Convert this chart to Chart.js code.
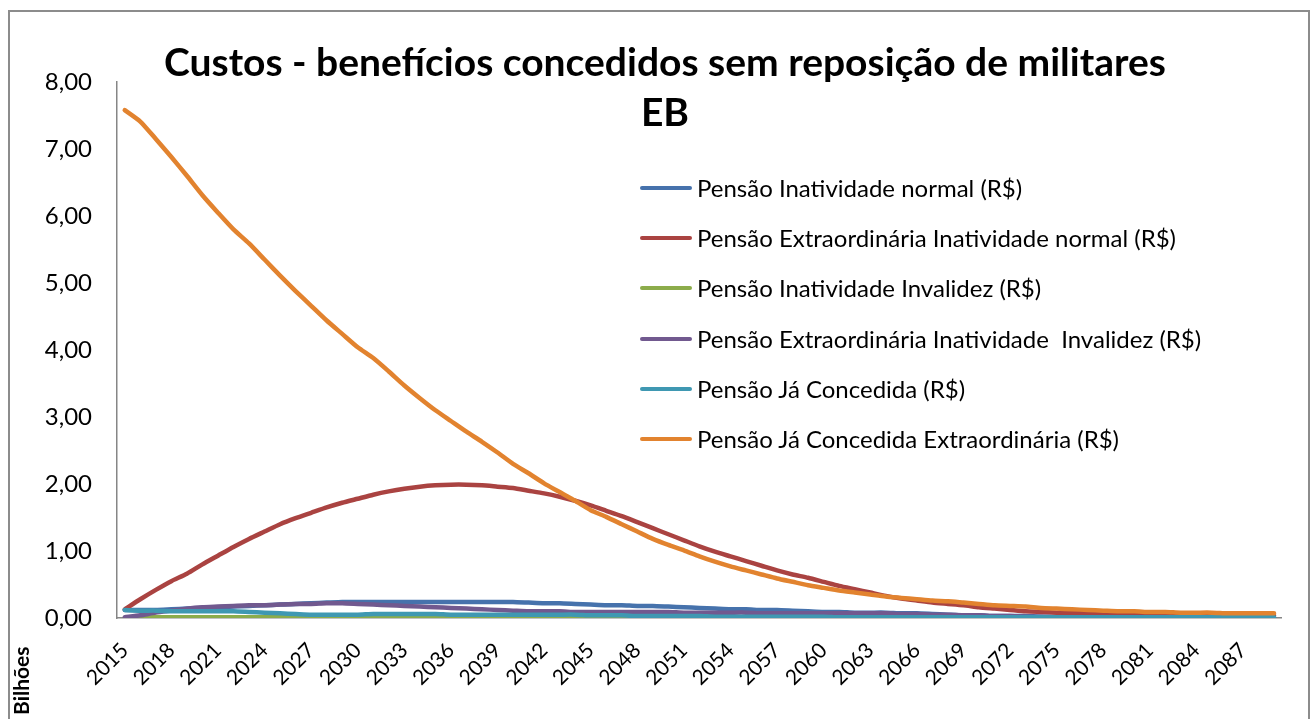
<!DOCTYPE html>
<html>
<head>
<meta charset="utf-8">
<title>Custos - benefícios concedidos sem reposição de militares EB</title>
<script src="https://cdn.jsdelivr.net/npm/chart.js@4.4.1/dist/chart.umd.min.js"></script>
<style>
  html, body { margin: 0; padding: 0; background: #fff; }
  #wrap { position: relative; width: 1312px; height: 719px; overflow: hidden; font-family: Lato, "Open Sans", sans-serif; }
  #frame { position: absolute; left: 8px; top: 10px; width: 1302px; height: 720px; border: 2px solid #8c8c8c; box-sizing: border-box; }
  #chart { position: absolute; left: 0; top: 0; }
  #title { position: absolute; left: 0; width: 1330px; top: 36px; text-align: center; font-weight: bold; font-size: 39px; line-height: 50px; color: #000; }
  #legend { position: absolute; left: 640px; top: 174px; font-size: 24px; line-height: 28px; color: #000; }
  #legend div { height: 50.2px; display: flex; align-items: flex-start; white-space: pre; }
  #legend span.sw { display: inline-block; width: 52px; height: 4px; margin-top: 12px; margin-right: 5px; border-radius: 2px; }
  #units { position: absolute; left: 8px; top: 715px; transform: rotate(-90deg); transform-origin: 0 0; font-weight: bold; font-size: 21px; }
</style>
</head>
<body>
<div id="wrap">
  <canvas id="chart" width="1312" height="719"></canvas>
  <div id="frame"></div>
  <div id="title">Custos - benefícios concedidos sem reposição de militares<br>EB</div>
  <div id="legend"></div>
  <div id="units">Bilhões</div>
</div>
<script>
// anos 2015..2089
const years = [];
for (let y = 2015; y <= 2089; y++) years.push(String(y));

const seriesNames = [
    'Pensão Inatividade normal (R$)',
    'Pensão Extraordinária Inatividade normal (R$)',
    'Pensão Inatividade Invalidez (R$)',
    'Pensão Extraordinária Inatividade  Invalidez (R$)',
    'Pensão Já Concedida (R$)',
    'Pensão Já Concedida Extraordinária (R$)'
];
const seriesColors = ['#4672ac', '#aa4341', '#8cac4b', '#71598f', '#3f98b2', '#e2832f'];

// valores em bilhões de R$
const inatNormal = [
    0.12, 0.12, 0.12, 0.13, 0.14, 0.15, 0.16, 0.17, 0.18, 0.19,
    0.20, 0.21, 0.22, 0.23, 0.24, 0.24, 0.24, 0.24, 0.24, 0.24,
    0.24, 0.24, 0.24, 0.24, 0.24, 0.24, 0.23, 0.22, 0.22, 0.21,
    0.20, 0.19, 0.19, 0.18, 0.18, 0.17, 0.16, 0.15, 0.14, 0.13,
    0.13, 0.12, 0.12, 0.11, 0.10, 0.09, 0.09, 0.08, 0.08, 0.08,
    0.07, 0.07, 0.06, 0.05, 0.04, 0.04, 0.03, 0.03, 0.03, 0.02,
    0.02, 0.02, 0.02, 0.02, 0.02, 0.02, 0.02, 0.02, 0.02, 0.02,
    0.01, 0.01, 0.01, 0.01, 0.01
];
const extraInatNormal = [
    0.13, 0.28, 0.42, 0.55, 0.66, 0.80, 0.93, 1.06, 1.18, 1.29,
    1.40, 1.49, 1.57, 1.65, 1.72, 1.78, 1.84, 1.89, 1.93, 1.96,
    1.98, 1.99, 1.99, 1.98, 1.96, 1.94, 1.90, 1.86, 1.81, 1.75,
    1.68, 1.60, 1.52, 1.43, 1.34, 1.25, 1.16, 1.07, 0.99, 0.92,
    0.85, 0.78, 0.71, 0.65, 0.60, 0.54, 0.48, 0.43, 0.38, 0.33,
    0.29, 0.26, 0.23, 0.21, 0.19, 0.16, 0.14, 0.12, 0.10, 0.09,
    0.08, 0.07, 0.07, 0.06, 0.06, 0.05, 0.05, 0.05, 0.04, 0.04,
    0.04, 0.04, 0.04, 0.04, 0.04
];
const inatInvalidez = [
    0.00, 0.01, 0.01, 0.01, 0.01, 0.01, 0.01, 0.01, 0.01, 0.01,
    0.02, 0.02, 0.02, 0.02, 0.02, 0.02, 0.02, 0.02, 0.02, 0.02,
    0.02, 0.02, 0.02, 0.02, 0.02, 0.02, 0.02, 0.02, 0.02, 0.02,
    0.02, 0.01, 0.01, 0.01, 0.01, 0.01, 0.01, 0.01, 0.01, 0.01,
    0.01, 0.01, 0.01, 0.01, 0.01, 0.01, 0.01, 0.01, 0.01, 0.01,
    0.01, 0.01, 0.01, 0.01, 0.01, 0.00, 0.00, 0.00, 0.00, 0.00,
    0.00, 0.00, 0.00, 0.00, 0.00, 0.00, 0.00, 0.00, 0.00, 0.00,
    0.00, 0.00, 0.00, 0.00, 0.00
];
const extraInatInvalidez = [
    0.01, 0.04, 0.08, 0.11, 0.14, 0.16, 0.17, 0.18, 0.19, 0.19,
    0.20, 0.21, 0.21, 0.22, 0.22, 0.21, 0.20, 0.19, 0.18, 0.17,
    0.16, 0.15, 0.14, 0.13, 0.12, 0.11, 0.10, 0.10, 0.10, 0.09,
    0.09, 0.09, 0.09, 0.09, 0.09, 0.09, 0.08, 0.08, 0.08, 0.08,
    0.08, 0.07, 0.07, 0.07, 0.07, 0.07, 0.07, 0.07, 0.07, 0.07,
    0.06, 0.06, 0.05, 0.05, 0.04, 0.04, 0.03, 0.03, 0.02, 0.02,
    0.01, 0.01, 0.00, 0.00, 0.00, 0.00, 0.00, 0.00, 0.00, 0.00,
    0.00, 0.00, 0.00, 0.00, 0.00
];
const jaConcedida = [
    0.12, 0.11, 0.11, 0.10, 0.10, 0.10, 0.10, 0.10, 0.09, 0.08,
    0.07, 0.06, 0.05, 0.05, 0.05, 0.05, 0.06, 0.06, 0.06, 0.06,
    0.06, 0.05, 0.05, 0.05, 0.05, 0.05, 0.05, 0.05, 0.05, 0.05,
    0.04, 0.04, 0.04, 0.03, 0.03, 0.03, 0.03, 0.03, 0.02, 0.02,
    0.02, 0.02, 0.02, 0.02, 0.02, 0.02, 0.01, 0.01, 0.01, 0.01,
    0.01, 0.01, 0.01, 0.01, 0.01, 0.01, 0.01, 0.01, 0.01, 0.01,
    0.01, 0.01, 0.01, 0.01, 0.01, 0.01, 0.01, 0.01, 0.01, 0.01,
    0.01, 0.01, 0.01, 0.01, 0.01
];
const jaConcedidaExtra = [
    7.58, 7.41, 7.15, 6.88, 6.60, 6.31, 6.05, 5.80, 5.59, 5.35,
    5.11, 4.88, 4.66, 4.44, 4.24, 4.04, 3.88, 3.68, 3.47, 3.28,
    3.10, 2.94, 2.78, 2.63, 2.47, 2.30, 2.16, 2.01, 1.88, 1.75,
    1.61, 1.51, 1.40, 1.29, 1.18, 1.09, 1.01, 0.92, 0.84, 0.77,
    0.71, 0.65, 0.59, 0.54, 0.49, 0.45, 0.41, 0.38, 0.35, 0.32,
    0.30, 0.28, 0.26, 0.25, 0.23, 0.21, 0.19, 0.18, 0.17, 0.15,
    0.14, 0.13, 0.12, 0.11, 0.10, 0.10, 0.09, 0.09, 0.08, 0.08,
    0.08, 0.07, 0.07, 0.07, 0.07
];

const seriesData = [inatNormal, extraInatNormal, inatInvalidez, extraInatInvalidez, jaConcedida, jaConcedidaExtra];

// legenda em HTML dentro da área do gráfico
const legend = document.getElementById('legend');
seriesNames.forEach((name, i) => {
    const row = document.createElement('div');
    const sw = document.createElement('span');
    sw.className = 'sw';
    sw.style.background = seriesColors[i];
    row.appendChild(sw);
    row.appendChild(document.createTextNode(name));
    legend.appendChild(row);
});

new Chart(document.getElementById('chart'), {
    type: 'line',
    data: {
        labels: years,
        datasets: seriesData.map((d, i) => ({
            label: seriesNames[i],
            data: d,
            borderColor: seriesColors[i],
            backgroundColor: seriesColors[i],
            borderWidth: 4.5,
            pointRadius: 0,
            tension: 0.2,
            borderCapStyle: 'round',
            borderJoinStyle: 'round',
            order: 5 - i
        }))
    },
    options: {
        responsive: false,
        animation: false,
        layout: { padding: { top: 82, right: 22, bottom: 1, left: 10 } },
        plugins: { legend: { display: false }, tooltip: { enabled: false } },
        scales: {
            x: {
                offset: true,
                grid: { display: false, drawTicks: false },
                border: { display: true, color: '#868686', width: 1.5 },
                ticks: {
                    autoSkip: false,
                    maxRotation: 45,
                    minRotation: 45,
                    padding: 20,
                    color: '#000',
                    font: { family: 'Lato', size: 21 },
                    callback: function(v, i) { return i % 3 === 0 ? years[i] : ''; }
                },
                afterFit: s => { s.height = 100; }
            },
            y: {
                min: 0,
                max: 8,
                grid: { display: false, drawTicks: false },
                border: { display: true, color: '#868686', width: 1.5 },
                ticks: {
                    stepSize: 1,
                    padding: 25,
                    color: '#000',
                    font: { family: 'Lato', size: 24 },
                    callback: v => v.toFixed(2).replace('.', ',')
                },
                afterFit: s => { s.width = 107; }
            }
        }
    }
});
</script>
</body>
</html>
